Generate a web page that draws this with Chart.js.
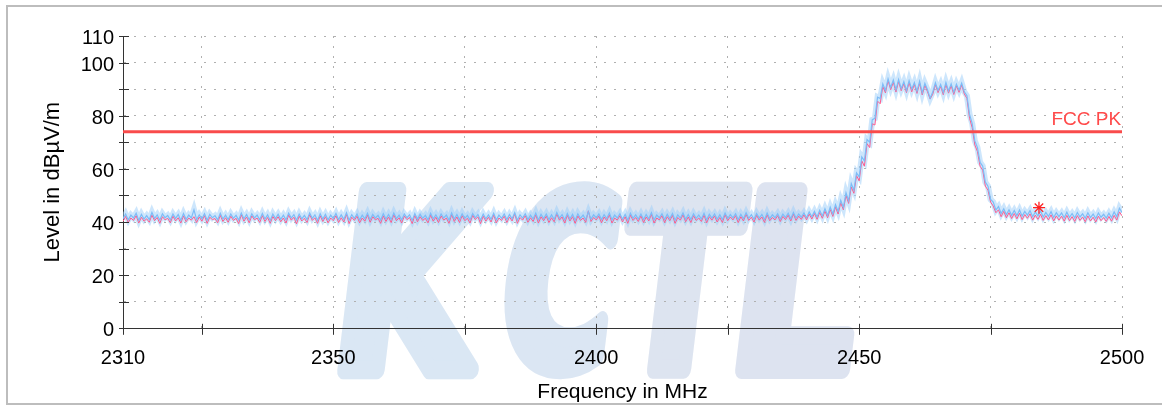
<!DOCTYPE html>
<html><head><meta charset="utf-8">
<script src="https://cdn.jsdelivr.net/npm/chart.js@4.4.1/dist/chart.umd.min.js"></script>
<style>html,body{margin:0;padding:0;background:#fff;}canvas{display:block;}</style>
</head><body>
<canvas id="c" width="1162" height="409"></canvas>
<script>
// ---- data ----
const sweepStartMHz = 2310;
const sweepStepMHz = 0.5;

// average-ish trace (blue), one value per 0.5 MHz from 2310 to 2500
const blueTrace = [
41.2,43.0,40.8,42.6,41.5,43.3,40.6,42.9,41.1,42.4,40.9,43.6,41.3,42.7,40.7,43.1,41.6,42.5,40.8,43.0,
41.4,42.8,40.6,43.2,41.0,42.6,41.5,44.6,40.9,42.7,41.2,43.1,40.7,42.9,41.6,42.4,40.8,43.3,41.1,42.6,
40.9,43.0,41.4,42.5,40.7,43.4,41.2,42.8,40.8,43.1,41.5,42.6,40.9,43.2,41.1,42.7,40.6,43.0,41.3,42.9,
41.0,42.6,40.8,43.3,41.5,42.8,40.7,43.0,41.2,42.5,40.9,43.4,41.4,42.7,40.6,43.1,41.1,42.9,40.8,42.6,
41.3,43.2,40.9,42.7,41.0,43.5,40.7,42.8,41.4,43.0,40.8,42.6,41.2,43.3,40.9,42.9,41.5,42.5,40.7,43.1,
41.1,42.8,40.9,43.4,41.3,42.6,40.8,43.0,41.6,42.7,40.6,43.2,41.0,42.9,41.4,42.5,40.8,43.3,41.2,42.7,
40.9,43.0,41.5,42.6,40.7,43.4,41.1,42.8,40.9,43.1,41.3,42.5,40.8,43.2,41.6,42.9,40.7,43.0,41.2,42.7,
41.0,43.3,40.8,42.6,41.4,43.0,40.9,42.8,41.2,43.5,40.7,42.7,41.5,43.1,40.9,42.6,41.1,43.4,40.8,42.9,
41.3,43.0,40.9,42.7,41.0,43.6,41.5,42.8,40.8,43.2,41.2,42.9,40.7,43.1,41.4,42.6,40.9,43.8,41.1,42.7,
41.6,43.0,40.9,42.8,41.3,43.4,40.8,42.6,41.5,43.1,41.0,42.9,40.7,43.3,41.4,42.7,41.1,43.0,40.9,42.8,
41.2,43.5,40.8,42.6,41.6,43.1,40.9,42.9,41.3,43.2,40.7,42.7,41.5,43.4,41.0,42.8,40.9,43.1,41.4,42.6,
41.1,43.3,40.8,42.9,41.5,43.0,41.0,42.7,40.9,43.4,41.3,42.8,41.6,43.1,40.9,42.9,41.2,43.5,41.4,42.8,
41.0,43.2,41.5,42.9,40.9,43.4,41.3,42.7,41.6,43.1,41.1,43.0,41.7,43.3,41.2,43.6,41.5,43.0,41.8,43.4,
41.6,43.8,42.0,44.0,41.9,44.4,42.3,45.0,42.5,45.6,43.0,46.5,44.0,48.2,45.5,51.0,48.0,54.5,52.0,58.5,
57.0,64.5,63.0,71.0,70.0,78.5,79.0,87.0,86.5,92.0,89.5,93.9,90.6,93.4,89.8,93.6,90.2,92.8,89.5,93.2,
90.0,92.5,89.2,93.0,88.6,92.2,89.8,86.6,88.9,92.4,89.5,91.8,88.7,92.5,89.3,92.0,88.8,91.9,89.6,92.3,
89.0,87.5,80.5,77.0,70.5,68.0,62.5,61.0,55.0,53.5,48.5,47.5,44.5,45.8,43.2,45.0,42.8,44.6,42.5,44.3,
42.4,44.5,42.2,44.0,42.6,44.3,42.0,43.8,42.3,44.1,41.9,43.6,42.1,43.9,41.7,43.5,42.0,43.4,41.6,43.7,
41.8,43.2,41.5,43.6,41.9,43.1,41.4,43.5,41.7,43.0,41.3,43.4,41.8,42.9,41.5,43.3,41.6,43.8,42.0,45.2,
43.6];

// second trace (pink/red), same sweep grid
const pinkTrace = [
40.2,42.1,39.8,41.5,40.6,42.4,39.6,41.8,40.3,41.2,39.9,42.6,40.5,41.7,39.5,42.0,40.8,41.4,39.7,42.2,
40.4,41.6,39.6,42.3,40.1,41.5,40.7,42.0,39.8,41.9,40.3,42.4,39.5,41.8,40.9,41.3,39.7,42.5,40.2,41.6,
39.9,42.2,40.6,41.4,39.4,42.7,40.3,41.9,39.7,42.3,40.8,41.5,39.8,42.4,40.2,41.7,39.5,42.1,40.5,42.0,
40.1,41.5,39.6,42.6,40.7,41.8,39.3,42.2,40.4,41.4,39.8,42.8,40.6,41.6,39.5,42.3,40.2,42.0,39.7,41.5,
40.5,42.4,39.8,41.6,40.0,42.9,39.4,41.8,40.6,42.2,39.7,41.5,40.3,42.6,39.9,42.0,40.8,41.4,39.5,42.3,
40.2,41.9,39.8,42.7,40.5,41.6,39.6,42.2,40.9,41.7,39.4,42.5,40.1,42.0,40.6,41.4,39.7,42.6,40.3,41.8,
39.8,42.3,40.7,41.5,39.5,42.8,40.2,41.9,39.8,42.4,40.5,41.4,39.6,42.5,40.9,42.0,39.4,42.2,40.3,41.8,
40.0,42.6,39.7,41.5,40.6,42.2,39.8,41.9,40.4,43.1,39.5,41.7,40.7,42.4,39.9,41.6,40.2,42.7,39.6,42.0,
40.5,42.2,39.8,41.6,40.1,43.0,40.7,41.9,39.6,42.5,40.4,42.0,39.5,42.3,40.6,41.5,39.9,44.2,40.2,41.7,
40.8,42.2,39.7,41.9,40.5,42.7,39.6,41.5,40.7,42.4,40.0,42.0,39.5,42.6,40.6,41.7,40.2,42.3,39.8,41.9,
40.4,42.9,39.6,41.5,40.8,42.4,39.8,42.0,40.5,42.5,39.5,41.7,40.7,42.7,40.1,41.9,39.8,42.4,40.6,41.5,
40.2,42.6,39.7,42.0,40.7,42.3,40.0,41.7,39.8,42.8,40.5,41.9,40.8,42.4,39.8,42.0,40.4,42.9,40.6,41.8,
40.0,42.5,40.7,41.9,39.9,42.7,40.5,41.7,40.8,42.4,40.2,42.1,40.9,42.6,40.4,43.0,40.6,42.2,41.0,42.7,
40.8,43.0,41.1,43.2,41.0,43.6,41.4,44.1,41.6,44.7,42.1,45.6,43.0,47.2,44.6,50.0,47.0,53.2,50.8,57.5,
55.5,63.0,61.0,69.5,68.0,77.0,76.5,85.5,84.5,91.0,88.6,93.2,89.8,92.6,88.9,92.9,89.4,92.1,88.7,92.5,
89.0,91.8,88.4,92.3,87.8,91.5,89.0,86.3,88.1,91.7,88.7,91.1,87.9,91.8,88.5,91.3,88.0,91.2,88.8,91.6,
88.2,86.5,79.0,75.5,69.0,66.5,61.0,59.5,53.5,52.0,47.5,46.0,43.5,44.6,42.0,44.0,41.6,43.5,41.3,43.2,
41.2,43.3,40.9,42.8,41.4,43.1,40.7,42.6,41.0,42.9,40.6,42.4,40.8,42.7,40.4,42.3,40.7,42.2,40.3,42.5,
40.5,42.0,40.2,42.4,40.6,41.9,40.1,42.3,40.4,41.8,40.0,42.2,40.5,41.7,40.2,42.1,40.3,42.5,40.7,43.8,
42.3];

const limitLevel = 74;            // dBµV/m
const limitName = 'FCC PK';
const markerFreq = [2484.2];
const markerLevel = [45.4];

const xRange = [2310, 2500];
const yRange = [0, 110];
const xTickValues = [2310, 2325, 2350, 2375, 2400, 2425, 2450, 2475, 2500];
const xLabelValues = [2310, 2350, 2400, 2450, 2500];
const yTickValues = [0, 10, 20, 30, 40, 50, 60, 70, 80, 90, 100, 110];
const yLabelValues = [0, 20, 40, 60, 80, 100, 110];
const xTitle = 'Frequency in MHz';
const yTitle = 'Level in dBµV/m';
const watermarkLetters = ['K', 'C', 'T', 'L'];

// ---- build datasets ----
const toPts = arr => arr.map((v, i) => ({x: sweepStartMHz + i * sweepStepMHz, y: v}));
const FONT = '"Liberation Sans", Arial, sans-serif';

function drawWatermark(ctx) {
  const boxes = [
    {l: 335, r: 480, color: '#dae7f4'},
    {l: 492, r: 603, color: '#dbe6f3'},
    {l: 604, r: 732, color: '#dde4f0'},
    {l: 733, r: 850, color: '#dde3f0'}];
  const top = 183, bot = 378, k = 0.12, sw = 16;
  ctx.save();
  ctx.font = 'bold 200px "DejaVu Sans"';
  ctx.textBaseline = 'alphabetic';
  ctx.textAlign = 'left';
  watermarkLetters.forEach((ch, i) => {
    const b = boxes[i];
    const m = ctx.measureText(ch);
    const gl = -m.actualBoundingBoxLeft, gr = m.actualBoundingBoxRight;
    const gt = -m.actualBoundingBoxAscent, gb = m.actualBoundingBoxDescent;
    const tl = b.l + sw / 2, tr = b.r - sw / 2, tt = top + sw / 2, tb = bot - sw / 2;
    const sx = (tr - tl) / (gr - gl), sy = (tb - tt) / (gb - gt);
    ctx.save();
    ctx.transform(1, 0, -k, 1, k * bot, 0);
    ctx.translate(tl - gl * sx, tt - gt * sy);
    ctx.scale(sx, sy);
    ctx.fillStyle = b.color; ctx.strokeStyle = b.color;
    ctx.lineWidth = sw / Math.sqrt(sx * sy);
    ctx.lineJoin = 'round';
    ctx.fillText(ch, 0, 0);
    ctx.strokeText(ch, 0, 0);
    ctx.restore();
  });
  ctx.restore();
}

const decor = {
  id: 'decor',
  beforeDraw(chart) {
    const ctx = chart.ctx;
    ctx.save();
    ctx.fillStyle = '#fff';
    ctx.fillRect(0, 0, chart.width, chart.height);
    ctx.restore();
    drawWatermark(ctx);
  },
  afterDraw(chart) {
    const ctx = chart.ctx, xs = chart.scales.x, ys = chart.scales.y, ca = chart.chartArea;
    ctx.save();
    // tick marks crossing the axes
    ctx.strokeStyle = '#333'; ctx.lineWidth = 1;
    ctx.beginPath();
    xTickValues.forEach(v => {
      const px = Math.round(xs.getPixelForValue(v)) + 0.5;
      ctx.moveTo(px, ca.bottom - 4.5); ctx.lineTo(px, ca.bottom + 6.5);
    });
    yTickValues.forEach(v => {
      const py = Math.round(ys.getPixelForValue(v)) + 0.5;
      ctx.moveTo(ca.left - 4, py); ctx.lineTo(ca.left + 6, py);
    });
    ctx.stroke();
    // limit label
    ctx.fillStyle = '#ff4a4a';
    ctx.font = '19px ' + FONT;
    ctx.textAlign = 'right';
    ctx.textBaseline = 'alphabetic';
    ctx.fillText(limitName, ca.right - 1, ys.getPixelForValue(limitLevel) - 7);
    // frame
    ctx.fillStyle = '#bdbdbd';
    ctx.fillRect(6, 5, chart.width - 6, 2);
    ctx.fillRect(6, 5, 2, 400);
    ctx.fillRect(6, 403, chart.width - 6, 2);
    ctx.restore();
  }
};

new Chart(document.getElementById('c'), {
  type: 'line',
  data: {
    datasets: [
      {label: 'Marker', type: 'scatter', data: markerFreq.map((f, i) => ({x: f, y: markerLevel[i]})),
       pointStyle: 'star', pointRadius: 6, borderColor: '#ff2020', backgroundColor: '#ff2020', borderWidth: 1.3, order: -1},
      {label: limitName, data: [{x: xRange[0], y: limitLevel}, {x: xRange[1], y: limitLevel}],
       borderColor: '#f94b4b', borderWidth: 3, pointRadius: 0, order: 0},
      {label: 'Trace 1', data: toPts(blueTrace), borderColor: '#7ebcf6', borderWidth: 1.2,
       pointRadius: 0, tension: 0, order: 1},
      {label: 'Trace 2', data: toPts(pinkTrace), borderColor: '#ff5a8c', borderWidth: 1,
       pointRadius: 0, tension: 0, order: 2},
      {label: 'Trace 1 haze', data: toPts(blueTrace), borderColor: 'rgba(155,205,250,0.5)', borderWidth: 6,
       pointRadius: 0, tension: 0, order: 3}
    ]
  },
  options: {
    responsive: false,
    animation: false,
    devicePixelRatio: 1,
    layout: {padding: {top: 36, right: 39, left: 0, bottom: 0}},
    plugins: {legend: {display: false}, tooltip: {enabled: false}},
    scales: {
      x: {
        type: 'linear', min: xRange[0], max: xRange[1],
        afterBuildTicks: s => { s.ticks = xTickValues.map(v => ({value: v})); },
        afterFit: s => { s.height = 80.7; },
        ticks: {
          autoSkip: false, maxRotation: 0, padding: 17.7, color: '#000',
          font: {size: 20, family: FONT},
          callback: v => xLabelValues.includes(v) ? String(v) : ''
        },
        grid: {color: '#b0b0b0', lineWidth: 1, drawTicks: false},
        border: {color: '#333', width: 1, dash: [2, 8]},
        title: {display: true, text: xTitle, color: '#000', font: {size: 21, family: FONT},
                padding: {top: 0, bottom: 4.6}}
      },
      y: {
        type: 'linear', min: yRange[0], max: yRange[1],
        afterBuildTicks: s => { s.ticks = yTickValues.map(v => ({value: v})); },
        afterFit: s => { s.width = 123; },
        ticks: {
          autoSkip: false, padding: 9, color: '#000', labelOffset: 2.5,
          font: {size: 20, family: FONT},
          callback: v => yLabelValues.includes(v) ? String(v) : ''
        },
        grid: {color: '#b0b0b0', lineWidth: 1, drawTicks: false},
        border: {color: '#333', width: 1, dash: [2, 8]},
        title: {display: true, text: yTitle, color: '#000', font: {size: 22, family: FONT},
                padding: {top: 40, bottom: 0}}
      }
    }
  },
  plugins: [decor]
});
</script>
</body></html>
